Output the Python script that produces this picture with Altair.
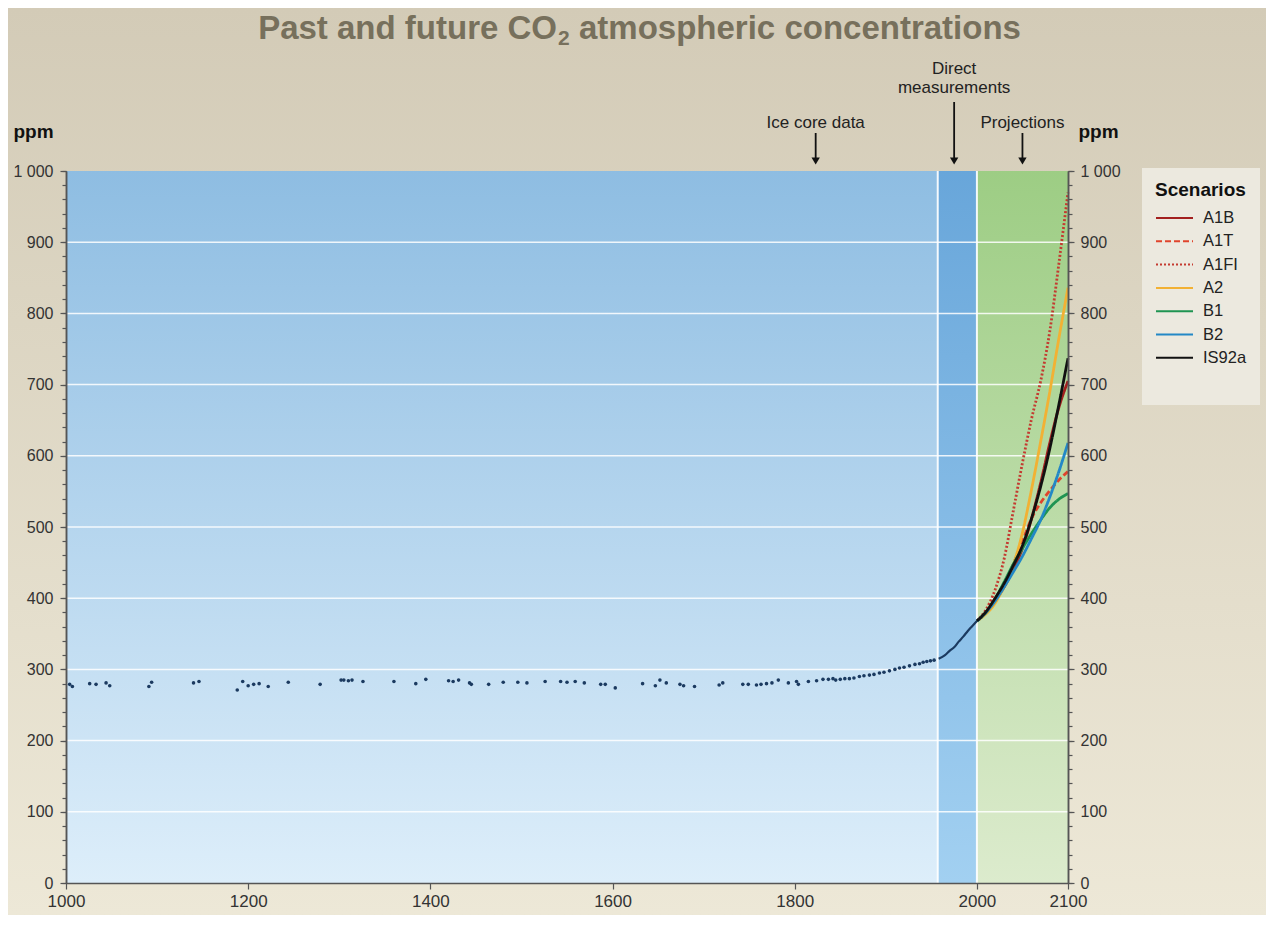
import altair as alt
import pandas as pd

FONT = "Liberation Sans"

# ---------------- data ----------------
ice_years = [1004, 1007, 1026, 1033, 1044, 1048, 1091, 1094, 1140, 1146, 1188, 1194,
             1200, 1206, 1212, 1222, 1244, 1279, 1302, 1305, 1310, 1314, 1326, 1360,
             1384, 1395, 1420, 1425, 1431, 1443, 1445, 1464, 1480, 1496, 1506, 1526,
             1543, 1550, 1559, 1569, 1587, 1592, 1603, 1633, 1647, 1652, 1659, 1674,
             1678, 1690, 1717, 1721, 1743, 1749, 1758, 1763, 1769, 1775, 1782, 1793,
             1802, 1804, 1815, 1824, 1831, 1837, 1842, 1845, 1850, 1855, 1860, 1865,
             1871, 1876, 1882, 1887, 1893, 1898, 1904, 1910, 1915, 1920, 1926, 1932,
             1937, 1941, 1945, 1949, 1953]
ice_ppm = [279, 276, 280, 279, 281, 277, 276, 282, 281, 283, 271, 283,
           277, 279, 280, 276, 282, 279, 285, 285, 284, 285, 283, 283,
           280, 286, 284, 283, 285, 281, 279, 279, 282, 282, 281, 283,
           283, 282, 283, 281, 279, 279, 274, 280, 277, 285, 281, 279,
           277, 276, 278, 281, 279, 279, 278, 279, 280, 281, 285, 281,
           283, 279, 283, 284, 286, 286, 287, 285, 286, 287, 287, 288,
           290, 291, 292, 293, 295, 296, 298, 300, 302, 303, 305, 307,
           308, 310, 311, 312, 313]

direct_years = [1958, 1965, 1970, 1975, 1980, 1985, 1990, 1995, 2000]
direct_ppm = [315, 320, 326, 331, 339, 346, 354, 361, 368]

proj_years = [2000, 2010, 2020, 2030, 2040, 2050, 2060, 2070, 2080, 2090, 2100]
A1B = [368, 380, 396, 416, 440, 470, 512, 562, 618, 668, 705]
A1T = [368, 380, 397, 420, 448, 480, 512, 534, 551, 566, 578]
A1FI = [368, 384, 412, 456, 523, 590, 652, 705, 775, 870, 970]
A2 = [368, 378, 393, 417, 447, 492, 553, 620, 690, 765, 836]
B1 = [368, 380, 399, 423, 448, 470, 491, 510, 527, 539, 547]
B2 = [368, 380, 396, 416, 437, 459, 484, 510, 542, 578, 618]
IS92a = [368, 381, 400, 421, 446, 474, 512, 557, 610, 672, 737]

scenarios = ["A1B", "A1T", "A1FI", "A2", "B1", "B2", "IS92a"]
scenario_values = [A1B, A1T, A1FI, A2, B1, B2, IS92a]
scenario_colors = ["#a3201f", "#e0442c", "#c43a30", "#f2b134", "#1f9452", "#2388c6", "#111111"]
scenario_dashes = [[1, 0], [6, 3], [2, 2], [1, 0], [1, 0], [1, 0], [1, 0]]
draw_order = ["A1FI", "A2", "B1", "B2", "A1T", "A1B", "IS92a"]
# an empty spacer row at the foot of the legend box
legend_domain = scenarios + [" "]
legend_colors = scenario_colors + ["rgba(0,0,0,0)"]
legend_dashes = scenario_dashes + [[1, 0]]

band_starts = [1000, 1957, 2000]
band_ends = [1957, 2000, 2100]
band_rules = [1957, 2000]

grid_ppm = [100, 200, 300, 400, 500, 600, 700, 800, 900]
y_major = [0, 100, 200, 300, 400, 500, 600, 700, 800, 900, 1000]
y_minor = list(range(0, 1001, 20))
x_ticks = [1000, 1200, 1400, 1600, 1800, 2000, 2100]

short_ann_years = [1823, 2050]
short_ann_labels = ["Ice core data", "Projections"]
long_ann_years = [1975]
long_ann_labels = ["Direct\nmeasurements"]

title_part1 = "Past and future CO"
title_sub = "2"
title_part2 = "atmospheric concentrations"

# ---------------- layout ----------------
W, H = 1002, 712
PAD = {"left": 58, "top": 163, "right": 198, "bottom": 32}

xs = alt.Scale(domain=[1000, 2100], nice=False, zero=False)
ys = alt.Scale(domain=[0, 1000], nice=False)

def grad(c0, c1):
    return alt.Gradient(gradient="linear", x1=0, x2=0, y1=0, y2=1,
                        stops=[alt.GradientStop(color=c0, offset=0),
                               alt.GradientStop(color=c1, offset=1)])

one = pd.DataFrame({"k": [0]})

# whole-chart background
bg = alt.Chart(one).mark_rect(fill=grad("#d3cbb7", "#ede8d7")).encode(
    x=alt.value(-PAD["left"]), x2=alt.value(W + PAD["right"]),
    y=alt.value(-PAD["top"]), y2=alt.value(H + PAD["bottom"]))

bands = pd.DataFrame({"start": band_starts, "end": band_ends})
band_grads = [grad("#8ebde2", "#ddeefa"), grad("#68a6da", "#a2d0f1"), grad("#9dcd84", "#dcebcd")]
band_layers = []
for i, g in enumerate(band_grads):
    band_layers.append(
        alt.Chart(bands.iloc[[i]]).mark_rect(fill=g).encode(
            x=alt.X("start:Q", scale=xs, axis=None), x2="end",
            y=alt.value(0), y2=alt.value(H)))

grid = alt.Chart(pd.DataFrame({"ppm": grid_ppm})).mark_rule(
    color="white", strokeWidth=1.5, opacity=0.85).encode(
    y=alt.Y("ppm:Q", scale=ys, axis=None))

vrules = alt.Chart(pd.DataFrame({"year": band_rules})).mark_rule(
    color="white", strokeWidth=2, opacity=0.9).encode(
    x=alt.X("year:Q", scale=xs, axis=None))

axis_common = dict(domainColor="#555555", domainWidth=1.5, tickColor="#555555",
                   tickWidth=1.2, labelFont=FONT, labelColor="#333333",
                   grid=False, zindex=1)

ice = alt.Chart(pd.DataFrame({"year": ice_years, "ppm": ice_ppm})).mark_circle(
    size=13, color="#1b3a60", opacity=1).encode(
    x=alt.X("year:Q", scale=xs,
            axis=alt.Axis(orient="bottom", values=x_ticks, title=None, format="d",
                          labelFontSize=17, tickSize=6, labelPadding=4,
                          labelFlush=False, labelOverlap=False, **axis_common)),
    y=alt.Y("ppm:Q", scale=ys,
            axis=alt.Axis(orient="left", values=y_major, title="ppm", labelFontSize=16,
                          tickSize=6, labelPadding=7,
                          labelExpr="datum.value == 1000 ? '1 000' : datum.label",
                          titleAngle=0, titleAlign="left", titleBaseline="alphabetic",
                          titleX=-53, titleY=-34, titleFont=FONT, titleFontSize=19,
                          titleFontWeight="bold", titleColor="#111111", **axis_common)))

direct = alt.Chart(pd.DataFrame({"year": direct_years, "ppm": direct_ppm})).mark_line(
    color="#1b3a60", strokeWidth=2.2, interpolate="monotone").encode(
    x=alt.X("year:Q", scale=xs, axis=None),
    y=alt.Y("ppm:Q", scale=ys,
            axis=alt.Axis(orient="right", values=y_major, title="ppm", labelFontSize=16,
                          tickSize=6, labelPadding=6,
                          labelExpr="datum.value == 1000 ? '1 000' : datum.label",
                          titleAngle=0, titleAlign="left", titleBaseline="alphabetic",
                          titleX=10, titleY=-34, titleFont=FONT, titleFontSize=19,
                          titleFontWeight="bold", titleColor="#111111", **axis_common)))

minor_df = pd.DataFrame({"ppm": y_minor})
minor_left = alt.Chart(minor_df).mark_tick(opacity=0).encode(
    y=alt.Y("ppm:Q", scale=ys,
            axis=alt.Axis(orient="left", values=y_minor, labels=False, title=None,
                          tickSize=4, **axis_common)))
minor_right = alt.Chart(minor_df).mark_tick(opacity=0).encode(
    y=alt.Y("ppm:Q", scale=ys,
            axis=alt.Axis(orient="right", values=y_minor, labels=False, title=None,
                          tickSize=4, **axis_common)))

rows = []
for name, vals in zip(scenarios, scenario_values):
    for yr, v in zip(proj_years, vals):
        rows.append({"year": yr, "ppm": v, "scenario": name,
                     "order": draw_order.index(name)})
proj_df = pd.DataFrame(rows)

legend = alt.Legend(title="Scenarios", orient="none", legendX=1076, legendY=-3,
                    fillColor="#ecE9df", padding=13, titleFont=FONT, titleFontSize=19,
                    titleFontWeight="bold", titleColor="#111111", titlePadding=8,
                    labelFont=FONT, labelFontSize=16.5, labelColor="#222222",
                    symbolType="stroke", symbolSize=1369, symbolStrokeWidth=2,
                    clipHeight=20, labelOffset=9, rowPadding=3.3)

proj = alt.Chart(proj_df).mark_line(strokeWidth=2.8, interpolate="monotone").encode(
    x=alt.X("year:Q", scale=xs, axis=None),
    y=alt.Y("ppm:Q", scale=ys, axis=None),
    color=alt.Color("scenario:N", scale=alt.Scale(domain=legend_domain, range=legend_colors),
                    legend=legend),
    strokeDash=alt.StrokeDash("scenario:N",
                              scale=alt.Scale(domain=legend_domain, range=legend_dashes),
                              legend=legend),
    detail="order:O",
)

# annotations above the plot
short_df = pd.DataFrame({"year": short_ann_years, "label": short_ann_labels})
long_df = pd.DataFrame({"year": long_ann_years, "label": long_ann_labels})
txt_style = dict(font=FONT, fontSize=17, color="#222222", align="center",
                 baseline="alphabetic", lineBreak="\n", lineHeight=19)
short_text = alt.Chart(short_df).mark_text(**txt_style).encode(
    x=alt.X("year:Q", scale=xs, axis=None), y=alt.value(-43), text="label:N")
long_text = alt.Chart(long_df).mark_text(**txt_style).encode(
    x=alt.X("year:Q", scale=xs, axis=None), y=alt.value(-97), text="label:N")
short_shaft = alt.Chart(short_df).mark_rule(color="#111111", strokeWidth=1.8).encode(
    x=alt.X("year:Q", scale=xs, axis=None), y=alt.value(-38), y2=alt.value(-12))
long_shaft = alt.Chart(long_df).mark_rule(color="#111111", strokeWidth=1.8).encode(
    x=alt.X("year:Q", scale=xs, axis=None), y=alt.value(-69), y2=alt.value(-12))
all_ann = pd.DataFrame({"year": short_ann_years + long_ann_years})
ann_head = alt.Chart(all_ann).mark_point(shape="triangle-down", filled=True, size=70,
                                         color="#111111", opacity=1).encode(
    x=alt.X("year:Q", scale=xs, axis=None), y=alt.value(-10))

# title, with a real subscript
tstyle = dict(font=FONT, fontWeight="bold", color="#77705c", baseline="alphabetic")
t1 = alt.Chart(one).mark_text(text=title_part1, fontSize=33, align="right", **tstyle).encode(
    x=alt.value(491), y=alt.value(-132))
t2 = alt.Chart(one).mark_text(text=title_sub, fontSize=21, align="left", **tstyle).encode(
    x=alt.value(492), y=alt.value(-126))
t3 = alt.Chart(one).mark_text(text=title_part2, fontSize=33, align="left", **tstyle).encode(
    x=alt.value(513), y=alt.value(-132))

chart = alt.layer(
    bg, *band_layers, grid, vrules, ice, direct, minor_left, minor_right, proj,
    short_text, long_text, short_shaft, long_shaft, ann_head, t1, t2, t3
).resolve_axis(y="independent", x="independent").properties(
    width=W, height=H, autosize=alt.AutoSizeParams(type="none"), padding=PAD,
    background="#e2dbc8"
).configure_view(stroke=None)

chart.save("out.html", embed_options={"renderer": "svg", "actions": False})
